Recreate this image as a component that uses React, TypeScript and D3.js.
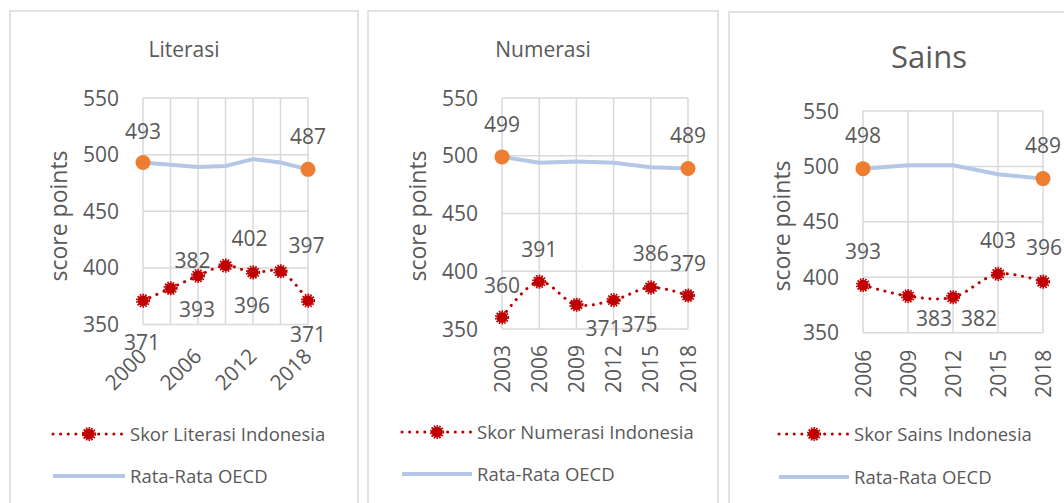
import React from "react";
import * as d3 from "d3";

// ---------- DATA ----------
const literasiYears = ["2000", "2003", "2006", "2009", "2012", "2015", "2018"];
const literasiIndonesia = [371, 382, 393, 402, 396, 397, 371];
const literasiOECD = [493, 491, 489, 490, 496, 493, 487];
const literasiTickLabels = ["2000", "2006", "2012", "2018"];

const numerasiYears = ["2003", "2006", "2009", "2012", "2015", "2018"];
const numerasiIndonesia = [360, 391, 371, 375, 386, 379];
const numerasiOECD = [499, 494, 495, 494, 490, 489];
const numerasiTickLabels = numerasiYears;

const sainsYears = ["2006", "2009", "2012", "2015", "2018"];
const sainsIndonesia = [393, 383, 382, 403, 396];
const sainsOECD = [498, 501, 501, 493, 489];
const sainsTickLabels = sainsYears;

const yTicks = [350, 400, 450, 500, 550];
const yTitle = "score points";
const oecdName = "Rata-Rata OECD";

// ---------- STYLE ----------
const FONT = "'Open Sans', 'Noto Sans', sans-serif";
const TEXT = "#595959";
const GRID = "#D9D9D9";
const RED = "#C00000";
const BLUE = "#B4C7E7";
const ORANGE = "#ED7D31";

type Panel = {
  title: string;
  titleSize: number;
  titleY: number;
  years: string[];
  indo: number[];
  oecd: number[];
  ticks: string[];
  indoName: string;
  frame: [number, number, number, number];
  plot: { l: number; r: number; t: number; b: number };
  rotate: number;
  xLabelDx: number;
  xLabelDy: number;
  yTitleX: number;
  yTitleY: number;
  indoLabelOff: [number, number][];
  oecdLabelOff: [number, number][];
  legend: { x1: number; x2: number; y1: number; y2: number };
};

const panels: Panel[] = [
  {
    title: "Literasi",
    titleSize: 21,
    titleY: 57,
    years: literasiYears,
    indo: literasiIndonesia,
    oecd: literasiOECD,
    ticks: literasiTickLabels,
    indoName: "Skor Literasi Indonesia",
    frame: [10, 11, 348, 600],
    plot: { l: 143, r: 308, t: 98, b: 324.5 },
    rotate: -45,
    xLabelDx: 5,
    xLabelDy: 33,
    yTitleX: 67,
    yTitleY: 216,
    indoLabelOff: [[-1, 49], [22, -20], [-1, 41], [24, -20], [-1, 41], [26, -18], [0, 41]],
    oecdLabelOff: [[0, -24], [0, -25]],
    legend: { x1: 53, x2: 125, y1: 434, y2: 476 },
  },
  {
    title: "Numerasi",
    titleSize: 21,
    titleY: 57,
    years: numerasiYears,
    indo: numerasiIndonesia,
    oecd: numerasiOECD,
    ticks: numerasiTickLabels,
    indoName: "Skor Numerasi Indonesia",
    frame: [368, 11, 350, 600],
    plot: { l: 502, r: 688, t: 98, b: 329 },
    rotate: -90,
    xLabelDx: 0,
    xLabelDy: 16,
    yTitleX: 426,
    yTitleY: 216,
    indoLabelOff: [[0, -24], [0, -25], [27, 31], [26, 32], [0, -26], [0, -25]],
    oecdLabelOff: [[0, -25], [0, -25]],
    legend: { x1: 402, x2: 472, y1: 432, y2: 474 },
  },
  {
    title: "Sains",
    titleSize: 31,
    titleY: 68,
    years: sainsYears,
    indo: sainsIndonesia,
    oecd: sainsOECD,
    ticks: sainsTickLabels,
    indoName: "Skor Sains Indonesia",
    frame: [729, 12, 400, 600],
    plot: { l: 863, r: 1043, t: 111, b: 332.7 },
    rotate: -90,
    xLabelDx: 0,
    xLabelDy: 17,
    yTitleX: 790,
    yTitleY: 226,
    indoLabelOff: [[0, -26], [26, 30], [26, 29], [0, -26], [1, -27]],
    oecdLabelOff: [[0, -26], [0, -26]],
    legend: { x1: 779, x2: 849, y1: 434, y2: 477 },
  },
];

const RedMarker = ({ cx, cy }: { cx: number; cy: number }) => (
  <g>
    <circle cx={cx} cy={cy} r={5.5} fill={RED} />
    <circle cx={cx} cy={cy} r={6.2} fill="none" stroke={RED} strokeWidth={1.8} strokeDasharray="1.6 1.2" />
  </g>
);

function PanelChart({ p }: { p: Panel }) {
  const x = d3.scalePoint<string>().domain(p.years).range([p.plot.l, p.plot.r]);
  const y = d3.scaleLinear().domain([350, 550]).range([p.plot.b, p.plot.t]);
  const indoLine = d3
    .line<number>()
    .x((_, i) => x(p.years[i]) as number)
    .y((d) => y(d))
    .curve(d3.curveCatmullRom.alpha(0.5));
  const oecdLine = d3
    .line<number>()
    .x((_, i) => x(p.years[i]) as number)
    .y((d) => y(d));
  const [fx, fy, fw, fh] = p.frame;
  const last = p.years.length - 1;
  const oecdEnds = [0, last];
  const lg = p.legend;
  const midX = (lg.x1 + lg.x2) / 2;
  return (
    <g>
      <rect x={fx} y={fy} width={fw} height={fh} fill="#fff" stroke={GRID} strokeWidth={1.5} />
      <text x={fx + fw / 2} y={p.titleY} textAnchor="middle" fontSize={p.titleSize} fill={TEXT}>
        {p.title}
      </text>
      {/* grid */}
      {yTicks.map((t) => (
        <line key={"h" + t} x1={p.plot.l} x2={p.plot.r} y1={y(t)} y2={y(t)} stroke={GRID} strokeWidth={1.5} />
      ))}
      {p.years.map((yr) => (
        <line key={"v" + yr} x1={x(yr)} x2={x(yr)} y1={p.plot.t} y2={p.plot.b} stroke={GRID} strokeWidth={1.5} />
      ))}
      {/* y tick labels */}
      {yTicks.map((t) => (
        <text key={"yl" + t} x={p.plot.l - 24} y={y(t)} dy="0.36em" textAnchor="end" fontSize={21} fill={TEXT}>
          {t}
        </text>
      ))}
      {/* y title */}
      <text
        transform={`translate(${p.yTitleX},${p.yTitleY}) rotate(-90)`}
        textAnchor="middle"
        fontSize={23}
        fill={TEXT}
      >
        {yTitle}
      </text>
      {/* x tick labels */}
      {p.ticks.map((t) => {
        const tx = (x(t) as number) + p.xLabelDx;
        const ty = p.plot.b + p.xLabelDy;
        return p.rotate === -90 ? (
          <text key={"xl" + t} transform={`translate(${tx},${ty}) rotate(-90)`} dy="0.36em" textAnchor="end" fontSize={21} fill={TEXT}>
            {t}
          </text>
        ) : (
          <text key={"xl" + t} transform={`translate(${tx},${ty}) rotate(${p.rotate})`} textAnchor="end" fontSize={21} fill={TEXT}>
            {t}
          </text>
        );
      })}
      {/* OECD line */}
      <path d={oecdLine(p.oecd) || ""} fill="none" stroke={BLUE} strokeWidth={4} strokeLinejoin="round" />
      {oecdEnds.map((i) => (
        <circle key={"o" + i} cx={x(p.years[i])} cy={y(p.oecd[i])} r={7.5} fill={ORANGE} />
      ))}
      {/* Indonesia line */}
      <path
        d={indoLine(p.indo) || ""}
        fill="none"
        stroke={RED}
        strokeWidth={3}
        strokeLinecap="round"
        strokeDasharray="0.1 7.5"
      />
      {p.indo.map((v, i) => (
        <RedMarker key={"m" + i} cx={x(p.years[i]) as number} cy={y(v)} />
      ))}
      {/* data labels */}
      {p.indo.map((v, i) => (
        <text
          key={"dl" + i}
          x={(x(p.years[i]) as number) + p.indoLabelOff[i][0]}
          y={y(v) + p.indoLabelOff[i][1]}
          textAnchor="middle"
          fontSize={21}
          fill={TEXT}
        >
          {v}
        </text>
      ))}
      {oecdEnds.map((i, k) => (
        <text
          key={"ol" + i}
          x={(x(p.years[i]) as number) + p.oecdLabelOff[k][0]}
          y={y(p.oecd[i]) + p.oecdLabelOff[k][1]}
          textAnchor="middle"
          fontSize={21}
          fill={TEXT}
        >
          {p.oecd[i]}
        </text>
      ))}
      {/* legend */}
      <line x1={lg.x1} x2={lg.x2} y1={lg.y1} y2={lg.y1} stroke={RED} strokeWidth={3} strokeLinecap="round" strokeDasharray="0.1 7.5" />
      <RedMarker cx={midX} cy={lg.y1} />
      <text x={lg.x2 + 5} y={lg.y1} dy="0.36em" fontSize={18.5} fill={TEXT}>
        {p.indoName}
      </text>
      <line x1={lg.x1} x2={lg.x2} y1={lg.y2} y2={lg.y2} stroke={BLUE} strokeWidth={4} />
      <text x={lg.x2 + 5} y={lg.y2} dy="0.36em" fontSize={18.5} fill={TEXT}>
        {oecdName}
      </text>
    </g>
  );
}

export default function App() {
  return (
    <svg
      width={1064}
      height={503}
      style={{ position: "absolute", left: 0, top: 0, background: "#fff", fontFamily: FONT }}
    >
      <rect x={0} y={0} width={1064} height={503} fill="#fff" />
      {panels.map((p) => (
        <PanelChart key={p.title} p={p} />
      ))}
    </svg>
  );
}
